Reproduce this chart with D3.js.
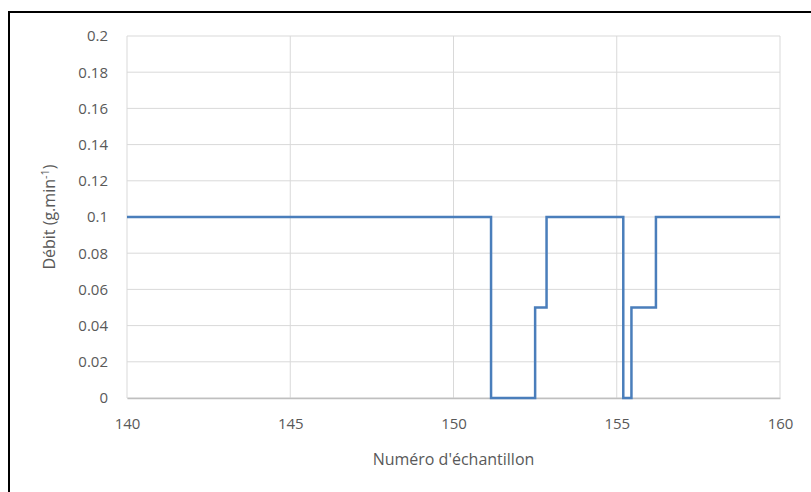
<!DOCTYPE html>
<html>
<head>
<meta charset="utf-8">
<script src="https://cdn.jsdelivr.net/npm/d3@7"></script>
<style>
  body { margin: 0; background: #fff; }
  text { font-family: "Open Sans", "Noto Sans", sans-serif; fill: #595959; }
</style>
</head>
<body>
<div id="chart-area"></div>
<script>
// step series: x (sample number) and flow value at each step corner
const sampleX = [140, 151.15, 151.15, 152.5, 152.5, 152.85, 152.85, 155.2, 155.2, 155.45, 155.45, 156.2, 156.2, 160];
const flowY   = [0.1, 0.1, 0, 0, 0.05, 0.05, 0.1, 0.1, 0, 0, 0.05, 0.05, 0.1, 0.1];
const xTicks = [140, 145, 150, 155, 160];
const yTicks = [0, 0.02, 0.04, 0.06, 0.08, 0.1, 0.12, 0.14, 0.16, 0.18, 0.2];

const W = 811, H = 492;
const margin = { left: 127, right: 31, top: 36, bottom: 94 };
const width = W - margin.left - margin.right;
const height = H - margin.top - margin.bottom;

const svg = d3.select("#chart-area").append("svg")
  .attr("width", W)
  .attr("height", H);

// outer black frame (top and left visible)
svg.append("path")
  .attr("d", `M9,${H} L9,12 L${W},12`)
  .attr("fill", "none")
  .attr("stroke", "#000")
  .attr("stroke-width", 2);

const g = svg.append("g")
  .attr("transform", `translate(${margin.left},${margin.top})`);

const x = d3.scaleLinear().domain([140, 160]).range([0, width]);
const y = d3.scaleLinear().domain([0, 0.2]).range([height, 0]);

// gridlines
g.append("g")
  .selectAll("line.h")
  .data(yTicks)
  .join("line")
  .attr("x1", 0).attr("x2", width)
  .attr("y1", d => y(d)).attr("y2", d => y(d))
  .attr("stroke", "#d9d9d9").attr("stroke-width", 1);

g.append("g")
  .selectAll("line.v")
  .data(xTicks)
  .join("line")
  .attr("x1", d => x(d)).attr("x2", d => x(d))
  .attr("y1", 0).attr("y2", height)
  .attr("stroke", "#d9d9d9").attr("stroke-width", 1);

// axes
const xAxis = g.append("g")
  .attr("transform", `translate(0,${height})`)
  .call(d3.axisBottom(x).tickValues(xTicks).tickSize(0).tickPadding(20).tickFormat(d3.format("d")));
xAxis.select(".domain").attr("stroke", "#bfbfbf").attr("stroke-width", 1.5);
xAxis.selectAll("text").style("font-size", "15px").attr("fill", "#595959");

const yAxis = g.append("g")
  .call(d3.axisLeft(y).tickValues(yTicks).tickSize(0).tickPadding(19).tickFormat(d => d === 0 ? "0" : String(+d.toFixed(2))));
yAxis.select(".domain").remove();
yAxis.selectAll("text").style("font-size", "15px").attr("fill", "#595959");

// series
const line = d3.line()
  .x((d, i) => x(sampleX[i]))
  .y(d => y(d));

g.append("path")
  .datum(flowY)
  .attr("fill", "none")
  .attr("stroke", "#4a7ebb")
  .attr("stroke-width", 2.5)
  .attr("d", line);

// axis titles
g.append("text")
  .attr("x", width / 2)
  .attr("y", height + 67)
  .attr("text-anchor", "middle")
  .style("font-size", "16px")
  .text("Numéro d'échantillon");

const yt = g.append("text")
  .attr("transform", `translate(-72,${height / 2}) rotate(-90)`)
  .attr("text-anchor", "middle")
  .style("font-size", "16px");
yt.append("tspan").text("Débit (g.min");
yt.append("tspan").attr("dy", -6).style("font-size", "11px").text("-1");
yt.append("tspan").attr("dy", 6).text(")");
</script>
</body>
</html>
